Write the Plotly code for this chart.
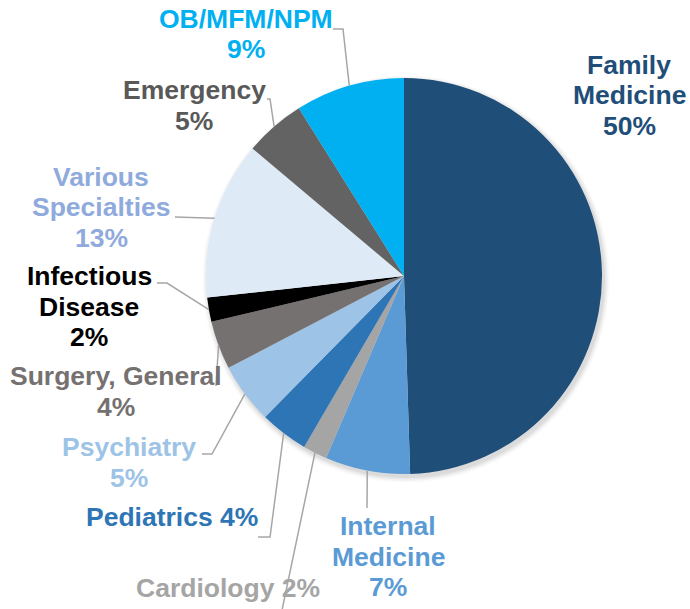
import math
import plotly.graph_objects as go

# ---- data ----
labels = ["Family Medicine", "Internal Medicine", "Cardiology", "Pediatrics", "Psychiatry",
          "Surgery, General", "Infectious Disease", "Various Specialties", "Emergency", "OB/MFM/NPM"]
values = [50, 7, 2, 4, 5, 4, 2, 13, 5, 9]
name_lines = [["Family", "Medicine"], ["Internal", "Medicine"], ["Cardiology"], ["Pediatrics"],
              ["Psychiatry"], ["Surgery, General"], ["Infectious", "Disease"],
              ["Various", "Specialties"], ["Emergency"], ["OB/MFM/NPM"]]
pct_inline = [False, False, True, True, False, False, False, False, False, False]

# ---- styles ----
slice_colors = ["#1F4E79", "#5B9BD5", "#A5A5A5", "#2E75B6", "#9DC3E6",
                "#767171", "#000000", "#DEEBF7", "#636363", "#00B0F0"]
text_colors = ["#1F4E79", "#5B9BD5", "#A5A5A5", "#2E75B6", "#9DC3E6",
               "#767171", "#000000", "#8FAADC", "#595959", "#00B0F0"]

W, H = 690, 609
CX, CY, R = 404, 276, 198  # pie centre / radius in pixels

# label placement (pixel centre x, first line middle y)
label_pos = [(629, 65), (388, 526), (228, 588), (172, 517), (129, 447),
             (116, 376), (89, 276), (101, 177), (194, 90), (246, 19)]
LINE_H = 30.5
# leader line points (pixels) from label side, ending at pie edge
leader_start = [None, [(367, 508)], [(281, 615)], [(258, 537), (270, 537)],
                [(202, 454), (212, 454)], [(216, 386)], [(157, 283), (167, 283)],
                [(175, 217)], [(267, 99), (270, 99)], [(333, 29), (343, 29)]]


def px(x):
    return x / W


def py(y):
    return 1 - y / H


fig = go.Figure()
fig.add_trace(go.Pie(
    labels=labels, values=values, sort=False, direction="clockwise", rotation=0,
    marker=dict(colors=slice_colors, line=dict(width=0)),
    textinfo="none", hoverinfo="label+percent", showlegend=False,
    domain=dict(x=[px(CX - R), px(CX + R)], y=[py(CY + R), py(CY - R)]),
))

# soft shadow under pie
for i, a in enumerate([0.05, 0.04, 0.03, 0.02]):
    rr = R + 1 + i * 1.5
    fig.add_shape(type="circle", xref="paper", yref="paper", layer="below",
                  x0=px(CX + 2 - rr), x1=px(CX + 2 + rr), y0=py(CY + 3 + rr), y1=py(CY + 3 - rr),
                  fillcolor=f"rgba(0,0,0,{a})", line=dict(width=0))

total = sum(values)
cum = 0
for i, v in enumerate(values):
    mid = (cum + v / 2) / total * 2 * math.pi
    cum += v
    ex, ey = CX + R * math.sin(mid), CY - R * math.cos(mid)
    lines = list(name_lines[i])
    if pct_inline[i]:
        lines[-1] = f"{lines[-1]} {v}%"
    else:
        lines.append(f"{v}%")
    lx, ly = label_pos[i]
    for k, t in enumerate(lines):
        fig.add_annotation(x=px(lx), y=py(ly + k * LINE_H), xref="paper", yref="paper",
                           text=t, showarrow=False, xanchor="center", yanchor="middle",
                           font=dict(family="Liberation Sans, Arial", size=26.5, color=text_colors[i],
                                     weight="bold"))
    if leader_start[i]:
        pts = leader_start[i] + [(ex, ey)]
        path = "M " + " L ".join(f"{px(x)},{py(y)}" for x, y in pts)
        fig.add_shape(type="path", xref="paper", yref="paper", path=path,
                      line=dict(color="#A6A6A6", width=1.5))

fig.update_layout(width=W, height=H, margin=dict(l=0, r=0, t=0, b=0),
                  paper_bgcolor="white", plot_bgcolor="white")
fig.write_html("out.html", config={"displayModeBar": False},
               post_script="document.body.style.margin='0';document.body.style.overflow='hidden';")
